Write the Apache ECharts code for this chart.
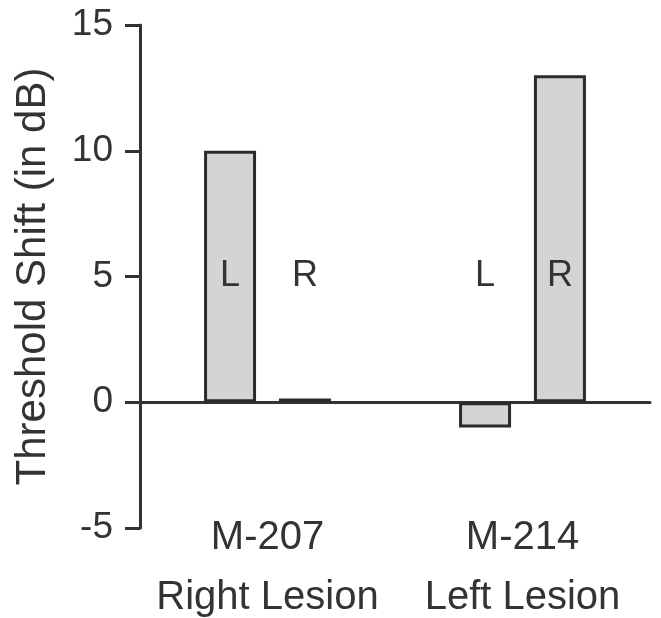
<!DOCTYPE html>
<html>
<head>
<meta charset="UTF-8">
<title>Threshold Shift</title>
<script type="text/javascript" src="https://cdn.jsdelivr.net/npm/echarts@6/dist/echarts.min.js"></script>
<style>
  html, body { margin: 0; padding: 0; background: #fff; }
</style>
</head>

<body>
    <div id="main" style="width: 661px;height:618px;"></div>
    <script type="text/javascript">
    // data
    var categories = ['M-207\nRight Lesion', 'M-214\nLeft Lesion'];
    var leftEar = [10, -1];
    var rightEar = [0.15, 13];
    var letterLevel = [5, 5]; // where the L / R letters sit
    var yTicks = { min: -5, max: 15, step: 5 };

    var ink = '#333';
    var font = 'Liberation Sans, Arial, Helvetica, sans-serif';

    var myChart = echarts.init(document.getElementById('main'));

    var barStyle = {
        color: '#d4d4d4',
        borderColor: '#2b2b2b',
        borderWidth: 3
    };

    function letterSeries(txt) {
        return {
            type: 'bar',
            xAxisIndex: 1,
            barWidth: 52,
            barGap: '44%',
            silent: true,
            data: letterLevel,
            itemStyle: { color: 'rgba(0,0,0,0)' },
            label: {
                show: true,
                position: ['50%', 0],
                align: 'center',
                verticalAlign: 'middle',
                formatter: txt,
                fontFamily: font,
                fontSize: 36,
                color: ink
            },
            z: 5
        };
    }

    var option = {
        animation: false,
        grid: { left: 140, right: 11, top: 25, bottom: 90, containLabel: false, outerBoundsMode: 'none' },
        xAxis: [{
            type: 'category',
            data: categories,
            axisLine: { onZero: true, lineStyle: { color: ink, width: 3 } },
            axisTick: { show: false },
            axisLabel: { show: false },
            splitLine: { show: false }
        }, {
            type: 'category',
            data: categories,
            position: 'bottom',
            axisLine: { show: false, onZero: false },
            axisTick: { show: false },
            splitLine: { show: false },
            axisLabel: {
                interval: 0,
                hideOverlap: false,
                margin: -20,
                fontFamily: font,
                fontSize: 40,
                lineHeight: 60,
                color: ink
            }
        }],
        yAxis: {
            type: 'value',
            min: yTicks.min,
            max: yTicks.max,
            interval: yTicks.step,
            name: 'Threshold Shift (in dB)',
            nameLocation: 'middle',
            nameGap: 86,
            nameTextStyle: {
                fontFamily: font,
                fontSize: 42,
                color: ink
            },
            axisLine: { show: true, lineStyle: { color: ink, width: 3 } },
            axisTick: { show: true, length: 15, lineStyle: { color: ink, width: 3 } },
            axisLabel: { margin: 27, fontFamily: font, fontSize: 37, color: ink },
            splitLine: { show: false }
        },
        series: [{
            name: 'L',
            type: 'bar',
            xAxisIndex: 0,
            barWidth: 52,
            barGap: '44%',
            data: leftEar,
            itemStyle: barStyle
        }, {
            name: 'R',
            type: 'bar',
            xAxisIndex: 0,
            barWidth: 52,
            barGap: '44%',
            data: rightEar,
            itemStyle: barStyle
        },
        letterSeries('L'),
        letterSeries('R')]
    };

    myChart.setOption(option);
    </script>
</body>
</html>
